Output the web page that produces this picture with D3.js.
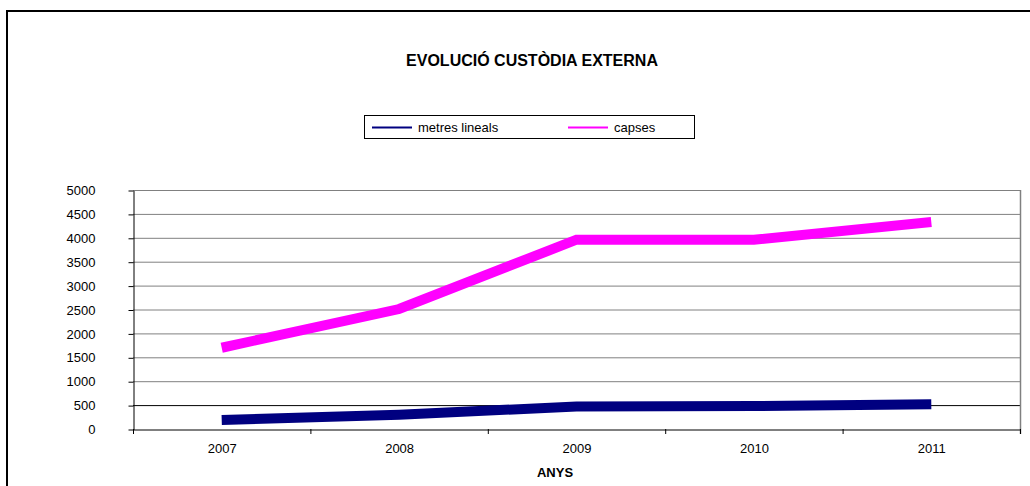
<!DOCTYPE html>
<html><head><meta charset="utf-8">
<script src="https://cdn.jsdelivr.net/npm/d3@7"></script>
<style>body{margin:0;background:#fff}svg{display:block}text{font-family:"Liberation Sans",Arial,sans-serif}</style>
</head><body>
<script>
const years = ["2007","2008","2009","2010","2011"];
const metresLineals = [190, 300, 470, 480, 520];
const capses = [1700, 2510, 3960, 3960, 4330];
const yTicks = [0,500,1000,1500,2000,2500,3000,3500,4000,4500,5000];
const seriesNames = ["metres lineals","capses"];
const seriesColors = ["#000080","#ff00ff"];

const W=1030,H=486;
const svg=d3.select("body").append("svg").attr("width",W).attr("height",H);
// outer border
svg.append("rect").attr("x",7).attr("y",11).attr("width",1040).attr("height",500)
  .attr("fill","none").attr("stroke","#000").attr("stroke-width",2);

const L=133,R=1020,T=190,B=429;
const x=d3.scaleBand().domain(years).range([L,R]);
const y=d3.scaleLinear().domain([0,5000]).range([B,T]);

// gridlines
svg.append("g").selectAll("line").data(yTicks.filter(d=>d>0)).join("line")
  .attr("x1",L).attr("x2",R).attr("y1",d=>y(d)+0.5).attr("y2",d=>y(d)+0.5)
  .attr("stroke",d=>d===500?"#000":"#808080").attr("stroke-width",1);
// right plot border
svg.append("line").attr("x1",R+0.5).attr("x2",R+0.5).attr("y1",T).attr("y2",B+5)
  .attr("stroke","#808080").attr("stroke-width",1.5);

// y axis
const ya=svg.append("g").attr("transform",`translate(${L+0.5},0.5)`)
  .call(d3.axisLeft(y).tickValues(yTicks).tickFormat(d3.format("d")).tickSize(5).tickSizeOuter(0).tickPadding(33));
ya.select(".domain").attr("stroke","#000");
ya.selectAll(".tick line").attr("stroke","#000");
ya.selectAll("text").attr("font-size",13).attr("fill","#000")
  .attr("font-family","'Liberation Sans',Arial,sans-serif");

// x axis
const xa=svg.append("g").attr("transform",`translate(0.5,${B+0.5})`)
  .call(d3.axisBottom(x).tickSize(0).tickPadding(14));
xa.select(".domain").attr("stroke","#000");
xa.selectAll("text").attr("font-size",13).attr("fill","#000")
  .attr("font-family","'Liberation Sans',Arial,sans-serif");
// x boundary ticks
const bounds=years.map(d=>x(d)).concat([R]);
svg.append("g").selectAll("line").data(bounds).join("line")
  .attr("x1",d=>d+0.5).attr("x2",d=>d+0.5).attr("y1",B).attr("y2",B+5)
  .attr("stroke","#000");

// lines
const line=d3.line().x((d,i)=>x(years[i])+x.bandwidth()/2).y(d=>y(d));
[metresLineals,capses].forEach((s,i)=>{
  svg.append("path").datum(s).attr("d",line).attr("fill","none")
    .attr("stroke",seriesColors[i]).attr("stroke-width",10)
    .attr("stroke-linecap","butt").attr("stroke-linejoin","miter");
});

// title
svg.append("text").attr("x",532).attr("y",66).attr("text-anchor","middle")
  .attr("font-size",16).attr("font-weight","bold").text("EVOLUCIÓ CUSTÒDIA EXTERNA");
// x axis title
svg.append("text").attr("x",555).attr("y",477).attr("text-anchor","middle")
  .attr("font-size",13).attr("font-weight","bold").text("ANYS");

// legend
const lg=svg.append("g");
lg.append("rect").attr("x",364.5).attr("y",115.5).attr("width",330).attr("height",23)
  .attr("fill","#fff").attr("stroke","#000").attr("stroke-width",1);
const lx=[372,568];
seriesNames.forEach((n,i)=>{
  lg.append("line").attr("x1",lx[i]).attr("x2",lx[i]+40).attr("y1",127.5).attr("y2",127.5)
    .attr("stroke",seriesColors[i]).attr("stroke-width",2);
  lg.append("text").attr("x",lx[i]+46).attr("y",132).attr("font-size",13).text(n);
});
</script>
</body></html>
